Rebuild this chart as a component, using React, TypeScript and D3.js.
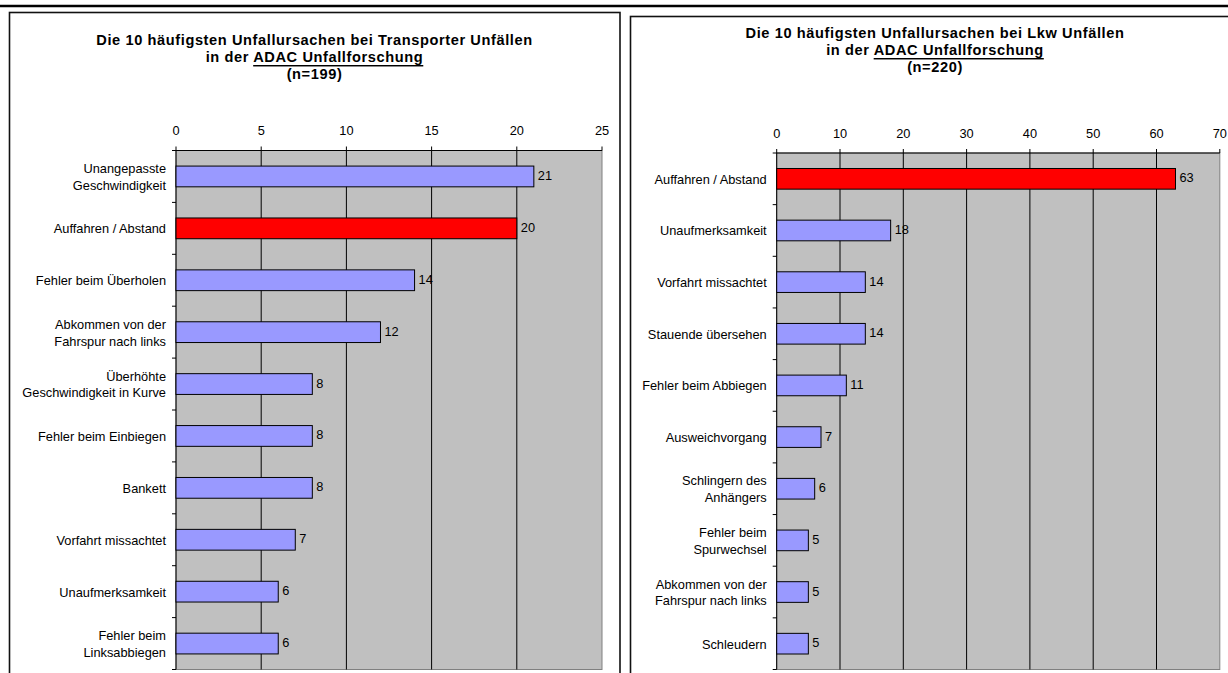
import React from "react";
import * as d3 from "d3";

const transporterCategories = [
  "Unangepasste\nGeschwindigkeit",
  "Auffahren / Abstand",
  "Fehler beim Überholen",
  "Abkommen von der\nFahrspur nach links",
  "Überhöhte\nGeschwindigkeit in Kurve",
  "Fehler beim Einbiegen",
  "Bankett",
  "Vorfahrt missachtet",
  "Unaufmerksamkeit",
  "Fehler beim\nLinksabbiegen",
];
const transporterValues = [21, 20, 14, 12, 8, 8, 8, 7, 6, 6];
const transporterTicks = [0, 5, 10, 15, 20, 25];

const lkwCategories = [
  "Auffahren / Abstand",
  "Unaufmerksamkeit",
  "Vorfahrt missachtet",
  "Stauende übersehen",
  "Fehler beim Abbiegen",
  "Ausweichvorgang",
  "Schlingern des\nAnhängers",
  "Fehler beim\nSpurwechsel",
  "Abkommen von der\nFahrspur nach links",
  "Schleudern",
];
const lkwValues = [63, 18, 14, 14, 11, 7, 6, 5, 5, 5];
const lkwTicks = [0, 10, 20, 30, 40, 50, 60, 70];

const highlightCategory = "Auffahren / Abstand";

const FONT = "'Liberation Sans', Arial, Helvetica, sans-serif";

type PanelProps = {
  box: { x: number; y: number; w: number; h: number };
  titleX: number;
  titleY: number[];
  titleFirst: string;
  n: string;
  plot: { left: number; right: number; top: number; bottom: number };
  categories: string[];
  values: number[];
  ticks: number[];
};

function Panel({ box, titleX, titleY, titleFirst, n, plot, categories, values, ticks }: PanelProps) {
  const x = d3
    .scaleLinear()
    .domain([ticks[0], ticks[ticks.length - 1]])
    .range([plot.left, plot.right]);
  const y = d3
    .scaleBand<string>()
    .domain(categories)
    .range([plot.top, plot.bottom])
    .paddingInner(0.6)
    .paddingOuter(0.3);
  const step = y.step();
  const fs = 12.8;
  return (
    <g>
      <rect x={box.x} y={box.y} width={box.w} height={box.h} fill="#fff" stroke="#111" strokeWidth={1.6} />
      <g
        fontFamily={FONT}
        fontWeight="bold"
        fontSize={14.6}
        letterSpacing={0.6}
        textAnchor="middle"
        fill="#000"
      >
        <text x={titleX} y={titleY[0]} dominantBaseline="central">{titleFirst}</text>
        <text x={titleX} y={titleY[1]} dominantBaseline="central">
          {"in der "}
          <tspan textDecoration="underline">ADAC Unfallforschung</tspan>
        </text>
        <text x={titleX} y={titleY[2]} dominantBaseline="central">{n}</text>
      </g>
      {/* plot area */}
      <rect
        x={plot.left}
        y={plot.top}
        width={plot.right - plot.left}
        height={plot.bottom - plot.top}
        fill="#C0C0C0"
        stroke="#808080"
        strokeWidth={1}
      />
      {/* gridlines */}
      {ticks.slice(1, -1).map((t) => (
        <line key={"g" + t} x1={x(t)} x2={x(t)} y1={plot.top} y2={plot.bottom} stroke="#000" strokeWidth={1} />
      ))}
      {/* top axis */}
      <line x1={plot.left} x2={plot.right} y1={plot.top} y2={plot.top} stroke="#000" strokeWidth={1} />
      {ticks.map((t) => (
        <g key={"t" + t}>
          <line x1={x(t)} x2={x(t)} y1={plot.top - 4} y2={plot.top} stroke="#000" strokeWidth={1} />
          <text
            x={x(t)}
            y={plot.top - 20}
            textAnchor="middle"
            dominantBaseline="central"
            fontFamily={FONT}
            fontSize={fs}
            fill="#000"
          >
            {t}
          </text>
        </g>
      ))}
      {/* left axis */}
      <line x1={plot.left} x2={plot.left} y1={plot.top} y2={plot.bottom} stroke="#000" strokeWidth={1} />
      {d3.range(categories.length + 1).map((i) => {
        const yy = plot.top + i * step;
        return <line key={"ct" + i} x1={plot.left - 4} x2={plot.left} y1={yy} y2={yy} stroke="#000" strokeWidth={1} />;
      })}
      {/* bars */}
      {categories.map((c, i) => {
        const v = values[i];
        const by = y(c)!;
        const bh = y.bandwidth();
        const cy = by + bh / 2;
        const lines = c.split("\n");
        const lh = 16.8;
        return (
          <g key={c}>
            <rect
              x={x(0)}
              y={by}
              width={x(v) - x(0)}
              height={bh}
              fill={c === highlightCategory ? "#FF0000" : "#9999FF"}
              stroke="#000"
              strokeWidth={1}
            />
            <text
              x={x(v) + 4}
              y={cy - 1}
              dominantBaseline="central"
              fontFamily={FONT}
              fontSize={fs}
              fill="#000"
            >
              {v}
            </text>
            <text textAnchor="end" fontFamily={FONT} fontSize={fs} fill="#000" dominantBaseline="central">
              {lines.map((l, k) => (
                <tspan key={k} x={plot.left - 10} y={cy + (k - (lines.length - 1) / 2) * lh}>
                  {l}
                </tspan>
              ))}
            </text>
          </g>
        );
      })}
    </g>
  );
}

export default function App() {
  return (
    <svg
      width={1228}
      height={673}
      viewBox="0 0 1228 673"
      style={{ position: "absolute", left: 0, top: 0, background: "#fff" }}
    >
      <rect x={0} y={0} width={1228} height={673} fill="#fff" />
      <line x1={0} x2={1228} y1={6} y2={6} stroke="#000" strokeWidth={2.6} />
      <Panel
        box={{ x: 9.5, y: 12.5, w: 610.5, h: 700 }}
        titleX={314.5}
        titleY={[40, 57, 74]}
        titleFirst="Die 10 häufigsten Unfallursachen bei Transporter Unfällen"
        n="(n=199)"
        plot={{ left: 176, right: 602, top: 150.5, bottom: 669.5 }}
        categories={transporterCategories}
        values={transporterValues}
        ticks={transporterTicks}
      />
      <Panel
        box={{ x: 630.5, y: 16.5, w: 620, h: 700 }}
        titleX={935}
        titleY={[33, 50, 67]}
        titleFirst="Die 10 häufigsten Unfallursachen bei Lkw Unfällen"
        n="(n=220)"
        plot={{ left: 776.7, right: 1219.8, top: 153, bottom: 669.5 }}
        categories={lkwCategories}
        values={lkwValues}
        ticks={lkwTicks}
      />
    </svg>
  );
}
